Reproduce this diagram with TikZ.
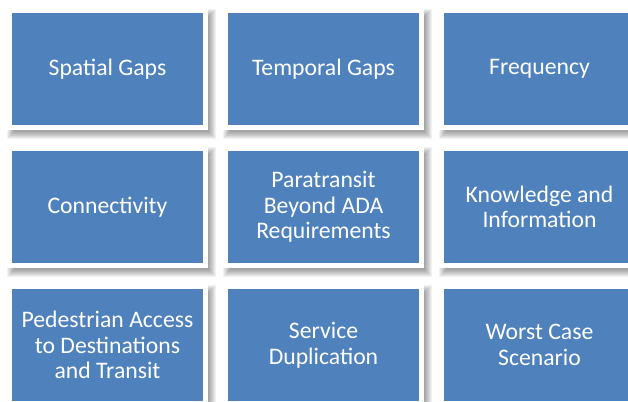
\documentclass[tikz,border=0pt]{standalone}
\usepackage{fontspec}
\setmainfont{Carlito}
\definecolor{tileblue}{HTML}{4F81BD}
\begin{document}
\begin{tikzpicture}[x=1pt,y=-1pt,
  tile/.style={fill=tileblue, draw=white, line width=5pt,
    minimum width=196pt, minimum height=117pt, inner sep=0pt,
    text=white, align=center, font=\fontsize{23.7}{25.7}\selectfont},
  shadelayer/.style={fill=black, opacity=0.05},
]
\useasboundingbox (0,0) rectangle (628,401);
\clip (0,0) rectangle (628,401);
\fill[white] (0,0) rectangle (628,401);
% soft drop shadows under every tile, built from stacked translucent layers
\foreach \cx in {107.5,323.5,539.5}
  \foreach \cy in {69,207,345}
    \foreach \k in {-3,...,4}
      \fill[shadelayer] (\cx+4-100.5-\k, \cy+5-61-\k) rectangle (\cx+4+100.5+\k, \cy+5+61+\k);
% tiles
\node[tile] (spatial)   at (107.5,69)  {Spatial Gaps};
\node[tile] (temporal)  at (323.5,69)  {Temporal Gaps};
\node[tile] (frequency) at (539.5,69)  {Frequency};
\node[tile] (connect)   at (107.5,207) {Connectivity};
\node[tile] (paratrans) at (323.5,207) {Paratransit\\Beyond ADA\\Requirements};
\node[tile] (knowledge) at (539.5,207) {Knowledge and\\Information};
\node[tile] (pedestr)   at (107.5,345) {Pedestrian Access\\to Destinations\\and Transit};
\node[tile] (service)   at (323.5,345) {Service\\Duplication};
\node[tile] (worst)     at (539.5,345) {Worst Case\\Scenario};
\end{tikzpicture}
\end{document}
